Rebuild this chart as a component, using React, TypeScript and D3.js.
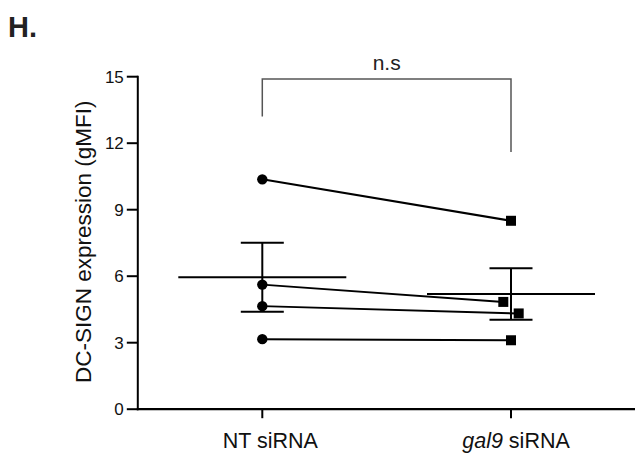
import React from "react";
import * as d3 from "d3";

const categories = ["NT siRNA", "gal9 siRNA"];
const ntValues = [10.37, 5.62, 4.65, 3.16];
const gal9Values = [8.5, 4.84, 4.32, 3.11];
const yTicks = [0, 3, 6, 9, 12, 15];
const bracketLevels = [13.2, 14.9, 11.6]; // left foot, top, right foot
const sigLabel = "n.s";
const yTitle = "DC-SIGN expression (gMFI)";
const panelLabel = "H.";

const W = 636;
const H = 461;
const FONT = "'Liberation Sans', Arial, Helvetica, sans-serif";
const gal9Jitter = [0, -7.7, 7.7, 0];

function meanSem(v: number[]) {
  const m = d3.mean(v) as number;
  const sd = d3.deviation(v) as number;
  return { m, sem: sd / Math.sqrt(v.length) };
}

export default function App() {
  const y = d3.scaleLinear().domain([0, 15]).range([409.2, 76.7]);
  const x = d3.scalePoint<string>().domain(categories).range([262.3, 511]);
  const xAxisY = y(0);
  const axisX = 137.8;

  const xNT = x(categories[0]) as number;
  const xG = x(categories[1]) as number;

  const stats = [
    { cx: xNT, ...meanSem(ntValues) },
    { cx: xG, ...meanSem(gal9Values) },
  ];

  const sq = 10;

  return (
    <svg
      width={W}
      height={H}
      style={{ position: "absolute", left: 0, top: 0 }}
      fontFamily={FONT}
    >
      <rect width={W} height={H} fill="#fff" />
      <text x={8} y={37} fontSize={29} fontWeight="bold" fill="#222">
        {panelLabel}
      </text>

      {/* y axis */}
      <line x1={axisX} x2={axisX} y1={y(15) - 1} y2={xAxisY + 1} stroke="#000" strokeWidth={2} />
      {yTicks.map((t) => (
        <g key={t}>
          <line x1={axisX - 11} x2={axisX} y1={y(t)} y2={y(t)} stroke="#000" strokeWidth={2} />
          <text
            x={axisX - 14}
            y={y(t)}
            dy="0.35em"
            textAnchor="end"
            fontSize={17}
            fill="#111"
          >
            {t}
          </text>
        </g>
      ))}
      <text
        transform={`translate(${91},${241.7}) rotate(-90)`}
        textAnchor="middle"
        fontSize={22.5}
        fill="#111"
      >
        {yTitle}
      </text>

      {/* x axis */}
      <line x1={axisX - 1} x2={635} y1={xAxisY} y2={xAxisY} stroke="#000" strokeWidth={2.2} />
      {categories.map((c) => (
        <line
          key={c}
          x1={x(c) as number}
          x2={x(c) as number}
          y1={xAxisY}
          y2={xAxisY + 9}
          stroke="#000"
          strokeWidth={2}
        />
      ))}
      <text x={xNT + 8} y={447.5} textAnchor="middle" fontSize={21.5} fill="#111">
        {categories[0]}
      </text>
      <text x={xG + 5} y={447.5} textAnchor="middle" fontSize={21.5} fill="#111">
        <tspan fontStyle="italic">gal9</tspan>
        <tspan> siRNA</tspan>
      </text>

      {/* significance bracket */}
      <path
        d={`M${xNT},${y(bracketLevels[0])} V${y(bracketLevels[1])} H${xG} V${y(bracketLevels[2])}`}
        fill="none"
        stroke="#555"
        strokeWidth={1.5}
      />
      <text x={(xNT + xG) / 2} y={69.5} textAnchor="middle" fontSize={21} fill="#222">
        {sigLabel}
      </text>

      {/* paired lines */}
      {ntValues.map((v, i) => (
        <line
          key={i}
          x1={xNT}
          y1={y(v)}
          x2={xG + gal9Jitter[i]}
          y2={y(gal9Values[i])}
          stroke="#000"
          strokeWidth={2}
        />
      ))}

      {/* mean and SEM */}
      {stats.map((s, i) => (
        <g key={i} stroke="#000" strokeWidth={2}>
          <line x1={s.cx - 84} x2={s.cx + 84} y1={y(s.m)} y2={y(s.m)} />
          <line x1={s.cx} x2={s.cx} y1={y(s.m + s.sem)} y2={y(s.m - s.sem)} />
          <line x1={s.cx - 21.5} x2={s.cx + 21.5} y1={y(s.m + s.sem)} y2={y(s.m + s.sem)} />
          <line x1={s.cx - 21.5} x2={s.cx + 21.5} y1={y(s.m - s.sem)} y2={y(s.m - s.sem)} />
        </g>
      ))}

      {/* points */}
      {ntValues.map((v, i) => (
        <circle key={i} cx={xNT} cy={y(v)} r={5.2} fill="#000" />
      ))}
      {gal9Values.map((v, i) => (
        <rect
          key={i}
          x={xG + gal9Jitter[i] - sq / 2}
          y={y(v) - sq / 2}
          width={sq}
          height={sq}
          fill="#000"
        />
      ))}
    </svg>
  );
}
